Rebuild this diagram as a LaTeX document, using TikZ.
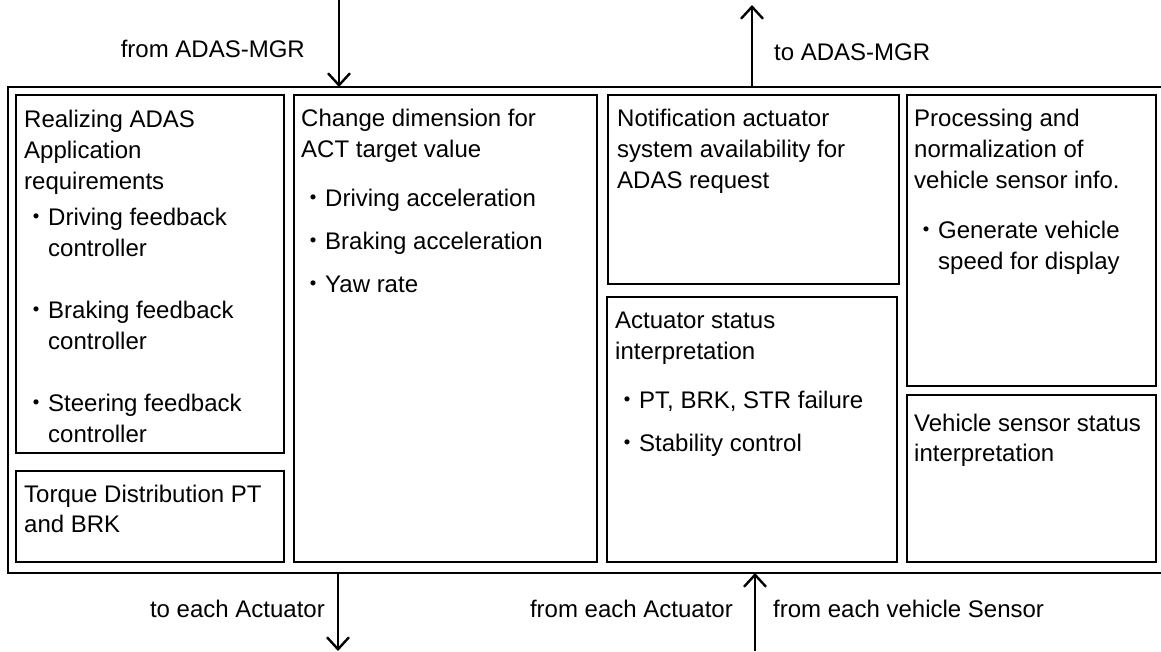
\documentclass[tikz,border=0pt]{standalone}
\usepackage{fontspec}
\setmainfont{Liberation Sans}
\newfontfamily\cjk{Noto Sans CJK JP}
\usetikzlibrary{arrows.meta}
\newcommand{\bul}{{\cjk ・}}
\newcommand{\ind}{\hspace*{24pt}}
\begin{document}
\begin{tikzpicture}[x=1pt,y=-1pt,
  box/.style={draw,line width=1.6pt,inner sep=0pt,outer sep=0pt,anchor=north west},
  txt/.style={anchor=base west,inner sep=0pt,font=\fontsize{24}{31}\selectfont},
  lbl/.style={inner sep=0pt,font=\fontsize{24}{31}\selectfont},
  arr/.style={line width=2.4pt,-{Straight Barb[length=12pt,width=22pt,line width=2.4pt]}}]
\useasboundingbox (0,0) rectangle (1161,651);
% outer frame
\node[box,minimum width=1157pt,minimum height=486pt] (outer) at (8,87) {};
% boxes
\node[box,minimum width=268pt,minimum height=358pt] (b1) at (16,95) {};
\node[box,minimum width=268pt,minimum height=91pt] (b7) at (16,471) {};
\node[box,minimum width=303pt,minimum height=467pt] (b2) at (294,95) {};
\node[box,minimum width=291pt,minimum height=189pt] (b3) at (608,95) {};
\node[box,minimum width=290pt,minimum height=265pt] (b4) at (607,297) {};
\node[box,minimum width=249pt,minimum height=291pt] (b5) at (907,95) {};
\node[box,minimum width=249pt,minimum height=167pt] (b6) at (907,395) {};
% box 1 text
\node[txt] (t1a) at (24,127) {Realizing ADAS};
\node[txt] (t1b) at (24,158) {Application};
\node[txt] (t1c) at (24,189) {requirements};
\node[txt] (t1d) at (24,225) {\bul Driving feedback};
\node[txt] (t1e) at (24,256) {\ind controller};
\node[txt] (t1f) at (24,318) {\bul Braking feedback};
\node[txt] (t1g) at (24,349) {\ind controller};
\node[txt] (t1h) at (24,411) {\bul Steering feedback};
\node[txt] (t1i) at (24,442) {\ind controller};
% box 7 text
\node[txt] (t7a) at (24,502) {Torque Distribution PT};
\node[txt] (t7b) at (24,532) {and BRK};
% box 2 text
\node[txt] (t2a) at (301,126) {Change dimension for};
\node[txt] (t2b) at (301,157) {ACT target value};
\node[txt] (t2c) at (301,206) {\bul Driving acceleration};
\node[txt] (t2d) at (301,249) {\bul Braking acceleration};
\node[txt] (t2e) at (301,292) {\bul Yaw rate};
% box 3 text
\node[txt] (t3a) at (617,126) {Notification actuator};
\node[txt] (t3b) at (617,157) {system availability for};
\node[txt] (t3c) at (617,188) {ADAS request};
% box 4 text
\node[txt] (t4a) at (615,328) {Actuator status};
\node[txt] (t4b) at (615,359) {interpretation};
\node[txt] (t4c) at (615,408) {\bul PT, BRK, STR failure};
\node[txt] (t4d) at (615,451) {\bul Stability control};
% box 5 text
\node[txt] (t5a) at (914,126) {Processing and};
\node[txt] (t5b) at (914,157) {normalization of};
\node[txt] (t5c) at (914,188) {vehicle sensor info.};
\node[txt] (t5d) at (914,238) {\bul Generate vehicle};
\node[txt] (t5e) at (914,269) {\ind speed for display};
% box 6 text
\node[txt] (t6a) at (914,431) {Vehicle sensor status};
\node[txt] (t6b) at (914,461) {interpretation};
% arrows
\coordinate (inTop) at (339,0);
\coordinate (outTop) at (752,5);
\coordinate (outBot) at (338,651);
\coordinate (inBot) at (755,651);
\draw[arr] (inTop) -- (inTop |- outer.north);
\draw[arr] (outTop |- outer.north) -- (outTop);
\draw[arr] (outBot |- outer.south) -- (outBot);
\draw[arr] (inBot) -- (inBot |- outer.south);
% labels
\node[lbl,anchor=base east] (l1) at (305,57) {from ADAS-MGR};
\node[lbl,anchor=base west] (l2) at (774,60) {to ADAS-MGR};
\node[lbl,anchor=base east] (l3) at (325,617) {to each Actuator};
\node[lbl,anchor=base east] (l4) at (733,617) {from each Actuator};
\node[lbl,anchor=base west] (l5) at (773,617) {from each vehicle Sensor};
\end{tikzpicture}
\end{document}
